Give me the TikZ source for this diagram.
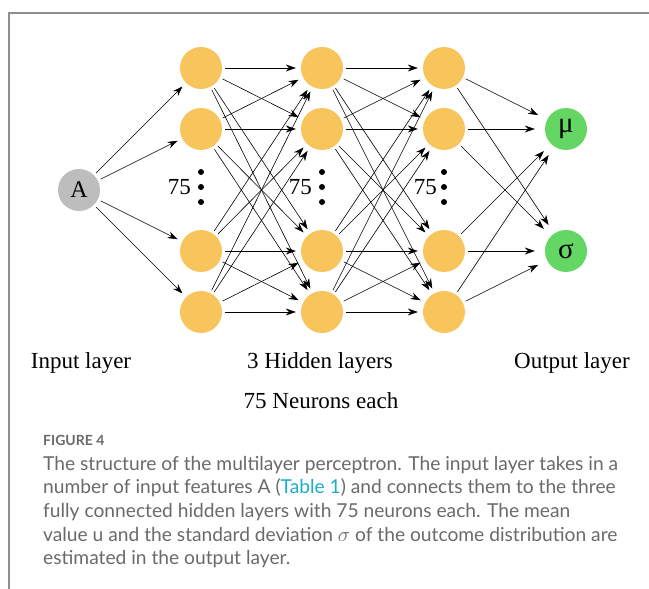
\documentclass[tikz,border=0pt]{standalone}
\usepackage{fontspec}
\setmainfont{Liberation Serif}
\newfontfamily\capfont{Lato}
\usetikzlibrary{arrows.meta}
\definecolor{neur}{HTML}{F8C55C}
\definecolor{outc}{HTML}{63D663}
\definecolor{inc}{HTML}{BDBDBD}
\definecolor{framec}{HTML}{8E8E8E}
\definecolor{captxt}{HTML}{6A6A6A}
\definecolor{linkc}{HTML}{1AAFC8}
\begin{document}
\begin{tikzpicture}[x=1pt,y=-1pt,
 neuron/.style={circle,fill=neur,minimum size=42pt,inner sep=0pt},
 outn/.style={circle,fill=outc,minimum size=42pt,inner sep=0pt,font=\fontsize{29}{29}\selectfont},
 inn/.style={circle,fill=inc,minimum size=42pt,inner sep=0pt,font=\fontsize{24}{24}\selectfont},
 conn/.style={-{Stealth[length=10pt,width=7pt]},line width=0.6pt,shorten <=3pt,shorten >=5pt},
 lbl/.style={font=\fontsize{23}{26}\selectfont,anchor=base,inner sep=0pt},
 cnt/.style={font=\fontsize{23}{26}\selectfont,anchor=east,inner sep=0pt},
 capline/.style={font=\capfont\fontsize{19.2}{24}\selectfont,text=captxt,anchor=base west,inner sep=0pt},
]
\useasboundingbox (0,0) rectangle (649,589);
\fill[white] (0,0) rectangle (649,589);
\draw[framec,line width=2pt] (649,13) -- (9,13) -- (9,589);

\node[inn] (A) at (79,190) {A};
\foreach \c/\x in {1/201,2/322,3/444}{
  \foreach \r/\y in {1/68,2/129,3/251,4/312}{
    \node[neuron] (n\c\r) at (\x,\y) {};
  }
  \foreach \y in {172,187,202} \fill (\x,\y) circle (3pt);
}
\node[outn] (mu) at (566,129) {μ};
\node[outn] (sg) at (566,251) {σ};

\node[cnt] (t1) at (191,187) {75};
\node[cnt] (t2) at (312,187) {75};
\node[cnt] (t3) at (437,187) {75};

\foreach \r in {1,...,4} \draw[conn] (A) -- (n1\r);
\foreach \a in {1,...,4}{
  \foreach \b in {1,...,4}{
    \draw[conn] (n1\a) -- (n2\b);
    \draw[conn] (n2\a) -- (n3\b);
  }
  \draw[conn,shorten >=10pt] (n3\a) -- (mu);
  \draw[conn,shorten >=10pt] (n3\a) -- (sg);
}

\node[lbl] (l1) at (81,368) {Input layer};
\node[lbl] (l2) at (320,368) {3 Hidden layers};
\node[lbl] (l3) at (321,408) {75 Neurons each};
\node[lbl] (l4) at (572,368) {Output layer};

\node[capline,font=\capfont\bfseries\fontsize{14}{14}\selectfont,text=captxt] (c0) at (43,445) {FIGURE 4};
\node[capline] (c1) at (43,470) {The structure of the multilayer perceptron. The input layer takes in a};
\node[capline] (c2) at (43,493.7) {number of input features A ({\color{linkc}Table 1}) and connects them to the three};
\node[capline] (c3) at (43,517.3) {fully connected hidden layers with 75 neurons each. The mean};
\node[capline] (c4) at (43,541) {value u and the standard deviation $\sigma$ of the outcome distribution are};
\node[capline] (c5) at (43,564.7) {estimated in the output layer.};
\end{tikzpicture}
\end{document}
